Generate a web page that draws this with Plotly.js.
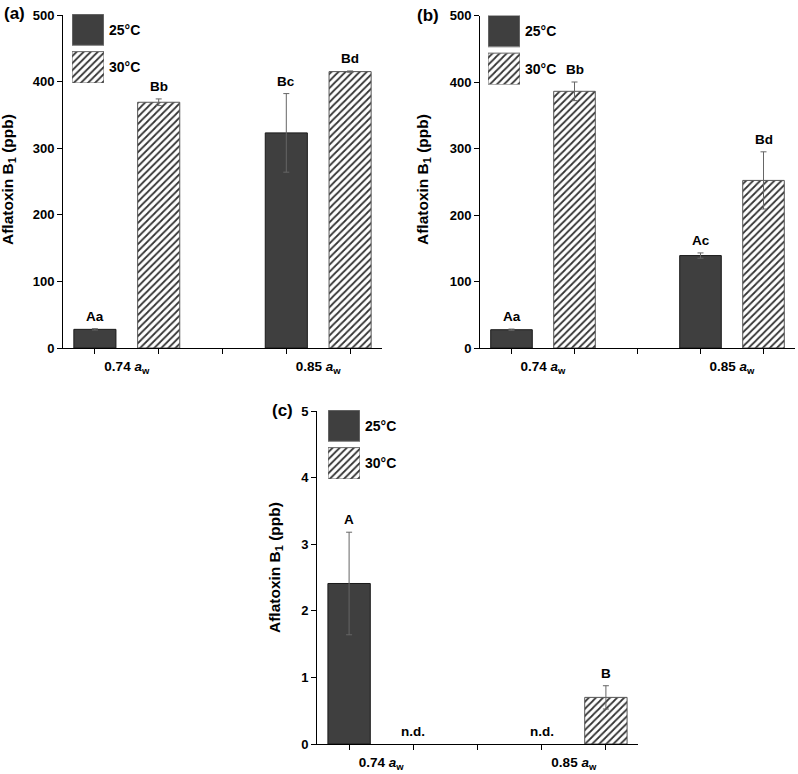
<!DOCTYPE html>
<html>
<head>
<meta charset="utf-8">
<script src="https://cdn.plot.ly/plotly-3.0.1.min.js"></script>
<style>html,body{margin:0;padding:0;background:#fff;}#chart{width:798px;height:774px;}</style>
</head>
<body>
<div id="chart"></div>
<script>
// ---- data ----
const categories = ['0.74', '0.85'];          // water activity (a_w)
const seriesNames = ['25°C', '30°C'];

// panel (a)
const aflaA_25C = [28, 323];
const errA_25C  = [1, 59];
const aflaA_30C = [369, 415];
const errA_30C  = [5, 1];
const letA_25C  = ['Aa', 'Bc'];
const letA_30C  = ['Bb', 'Bd'];

// panel (b)
const aflaB_25C = [27.5, 139];
const errB_25C  = [1, 4];
const aflaB_30C = [386, 252];
const errB_30C  = [14, 43];
const letB_25C  = ['Aa', 'Ac'];
const letB_30C  = ['Bb', 'Bd'];

// panel (c)  (null = not detected)
const aflaC_25C = [2.41, null];
const errC_25C  = [0.77, 0];
const aflaC_30C = [null, 0.70];
const errC_30C  = [0, 0.175];
const letC_25C  = ['A', 'n.d.'];
const letC_30C  = ['n.d.', 'B'];

const yTitle = 'Aflatoxin B<sub>1</sub> (ppb)';
const panelLetters = ['(a)', '(b)', '(c)'];

// ---- layout helpers ----
const W = 798, H = 774;
const px = x => x / W;
const py = y => 1 - y / H;
const FONT = 'Liberation Sans, Arial, sans-serif';
const DARK = '#3f3f3f';

const panels = [
  { s25: aflaA_25C, e25: errA_25C, s30: aflaA_30C, e30: errA_30C, l25: letA_25C, l30: letA_30C,
    box: [63, 382, 15, 348], ymax: 500, dtick: 100, leg: [72, 14], letter: [14.5, 14], title: [9, 180] },
  { s25: aflaB_25C, e25: errB_25C, s30: aflaB_30C, e30: errB_30C, l25: letB_25C, l30: letB_30C,
    box: [480, 795, 15.5, 348], ymax: 500, dtick: 100, leg: [488, 15.5], letter: [428, 15], title: [424, 180] },
  { s25: aflaC_25C, e25: errC_25C, s30: aflaC_30C, e30: errC_30C, l25: letC_25C, l30: letC_30C,
    box: [317, 638, 411, 744], ymax: 5, dtick: 1, leg: [328, 410], letter: [282, 410], title: [275, 568] }
];

const traces = [];
const annotations = [];
const layout = {
  width: W, height: H,
  margin: { l: 0, r: 0, t: 0, b: 0 },
  paper_bgcolor: 'white', plot_bgcolor: 'white',
  showlegend: false,
  barmode: 'overlay',
  font: { family: FONT, color: 'black' },
  annotations: annotations
};

const hatch = { shape: '/', fgcolor: '#333', bgcolor: 'white', size: 5, solidity: 0.35 };
const groupStep = seriesNames.length + 1;

panels.forEach((p, i) => {
  const n = i + 1;
  const xa = n === 1 ? 'x' : 'x' + n, ya = n === 1 ? 'y' : 'y' + n;
  const xk = n === 1 ? 'xaxis' : 'xaxis' + n, yk = n === 1 ? 'yaxis' : 'yaxis' + n;
  const [l, r, t, b] = p.box;

  const xpos = s => categories.map((c, g) => g * groupStep + s + 1);
  const series = [[p.s25, p.e25, p.l25], [p.s30, p.e30, p.l30]];
  series.forEach(([vals, errs, labs], s) => {
    const xs = xpos(s);
    traces.push({
      type: 'bar', x: xs, y: vals, width: 0.66, xaxis: xa, yaxis: ya, name: seriesNames[s],
      marker: s === 0
        ? { color: DARK, line: { color: '#1a1a1a', width: 1 } }
        : { color: 'white', pattern: hatch, line: { color: '#555', width: 1 } },
      error_y: { type: 'data', array: errs, visible: true, color: '#666', thickness: 1, width: 3 },
      hoverinfo: 'skip'
    });
    labs.forEach((lab, g) => {
      annotations.push({
        xref: xa, yref: ya, x: xs[g], y: (vals[g] == null ? 0 : vals[g]) + (errs[g] || 0),
        yanchor: 'bottom', yshift: 3, showarrow: false,
        text: '<b>' + lab + '</b>', font: { size: 13.5, family: FONT, color: 'black' }
      });
    });
  });

  const nPos = categories.length * groupStep - 1;
  const allPos = Array.from({ length: nPos }, (_, k) => k + 1);
  layout[xk] = {
    domain: [px(l), px(r)], anchor: ya, range: [0.5, nPos + 0.5],
    showline: true, linecolor: 'black', linewidth: 1, zeroline: false, showgrid: false,
    tickvals: categories.map((c, g) => g * groupStep + (seriesNames.length + 1) / 2),
    ticktext: categories.map(c => '<b>' + c + ' <i>a</i><sub>w</sub></b>'),
    ticks: '', tickfont: { size: 13.5, family: FONT, color: 'black' }, ticklabelstandoff: 6,
    minor: { tickvals: allPos, ticks: 'outside', ticklen: 5, tickcolor: 'black', tickwidth: 1, showgrid: false },
    fixedrange: true
  };
  layout[yk] = {
    domain: [py(b), py(t)], anchor: xa, range: [0, p.ymax], dtick: p.dtick, tick0: 0,
    showline: true, linecolor: 'black', linewidth: 1, zeroline: false, showgrid: false,
    ticks: 'outside', ticklen: 5, tickcolor: 'black',
    tickfont: { size: 13, family: FONT, color: 'black', weight: 'bold' },
    fixedrange: true
  };

  // y title
  annotations.push({
    xref: 'paper', yref: 'paper', x: px(p.title[0]), y: py(p.title[1]), textangle: -90,
    xanchor: 'center', yanchor: 'middle', showarrow: false,
    text: '<b>' + yTitle + '</b>', font: { size: 15.5, family: FONT, color: 'black' }
  });
  // panel letter
  annotations.push({
    xref: 'paper', yref: 'paper', x: px(p.letter[0]), y: py(p.letter[1]),
    xanchor: 'center', yanchor: 'middle', showarrow: false,
    text: '<b>' + panelLetters[i] + '</b>', font: { size: 17, family: FONT, color: 'black' }
  });

  // legend swatches on a hidden axis pair
  const ln = n + 3;
  const lxa = 'x' + ln, lya = 'y' + ln;
  const [lx, ly] = p.leg;
  layout['xaxis' + ln] = { domain: [px(lx), px(lx + 32)], anchor: lya, range: [0, 1], visible: false, fixedrange: true };
  layout['yaxis' + ln] = { domain: [py(ly + 69), py(ly)], anchor: lxa, range: [0, 2.2], visible: false, fixedrange: true };
  seriesNames.forEach((nm, s) => {
    const base = s === 0 ? 1.2 : 0;
    traces.push({
      type: 'bar', x: [0.5], y: [1], base: [base], width: 1, xaxis: lxa, yaxis: lya, name: nm,
      marker: s === 0
        ? { color: DARK, line: { color: '#888', width: 1 } }
        : { color: 'white', pattern: hatch, line: { color: '#666', width: 1 } },
      hoverinfo: 'skip'
    });
    annotations.push({
      xref: lxa, yref: lya, x: 1, y: base + 0.5, xanchor: 'left', yanchor: 'middle', xshift: 3,
      showarrow: false, text: '<b>' + nm + '</b>', font: { size: 14, family: FONT, color: 'black' }
    });
  });
});

Plotly.newPlot('chart', traces, layout, { displayModeBar: false, staticPlot: true });
</script>
</body>
</html>
